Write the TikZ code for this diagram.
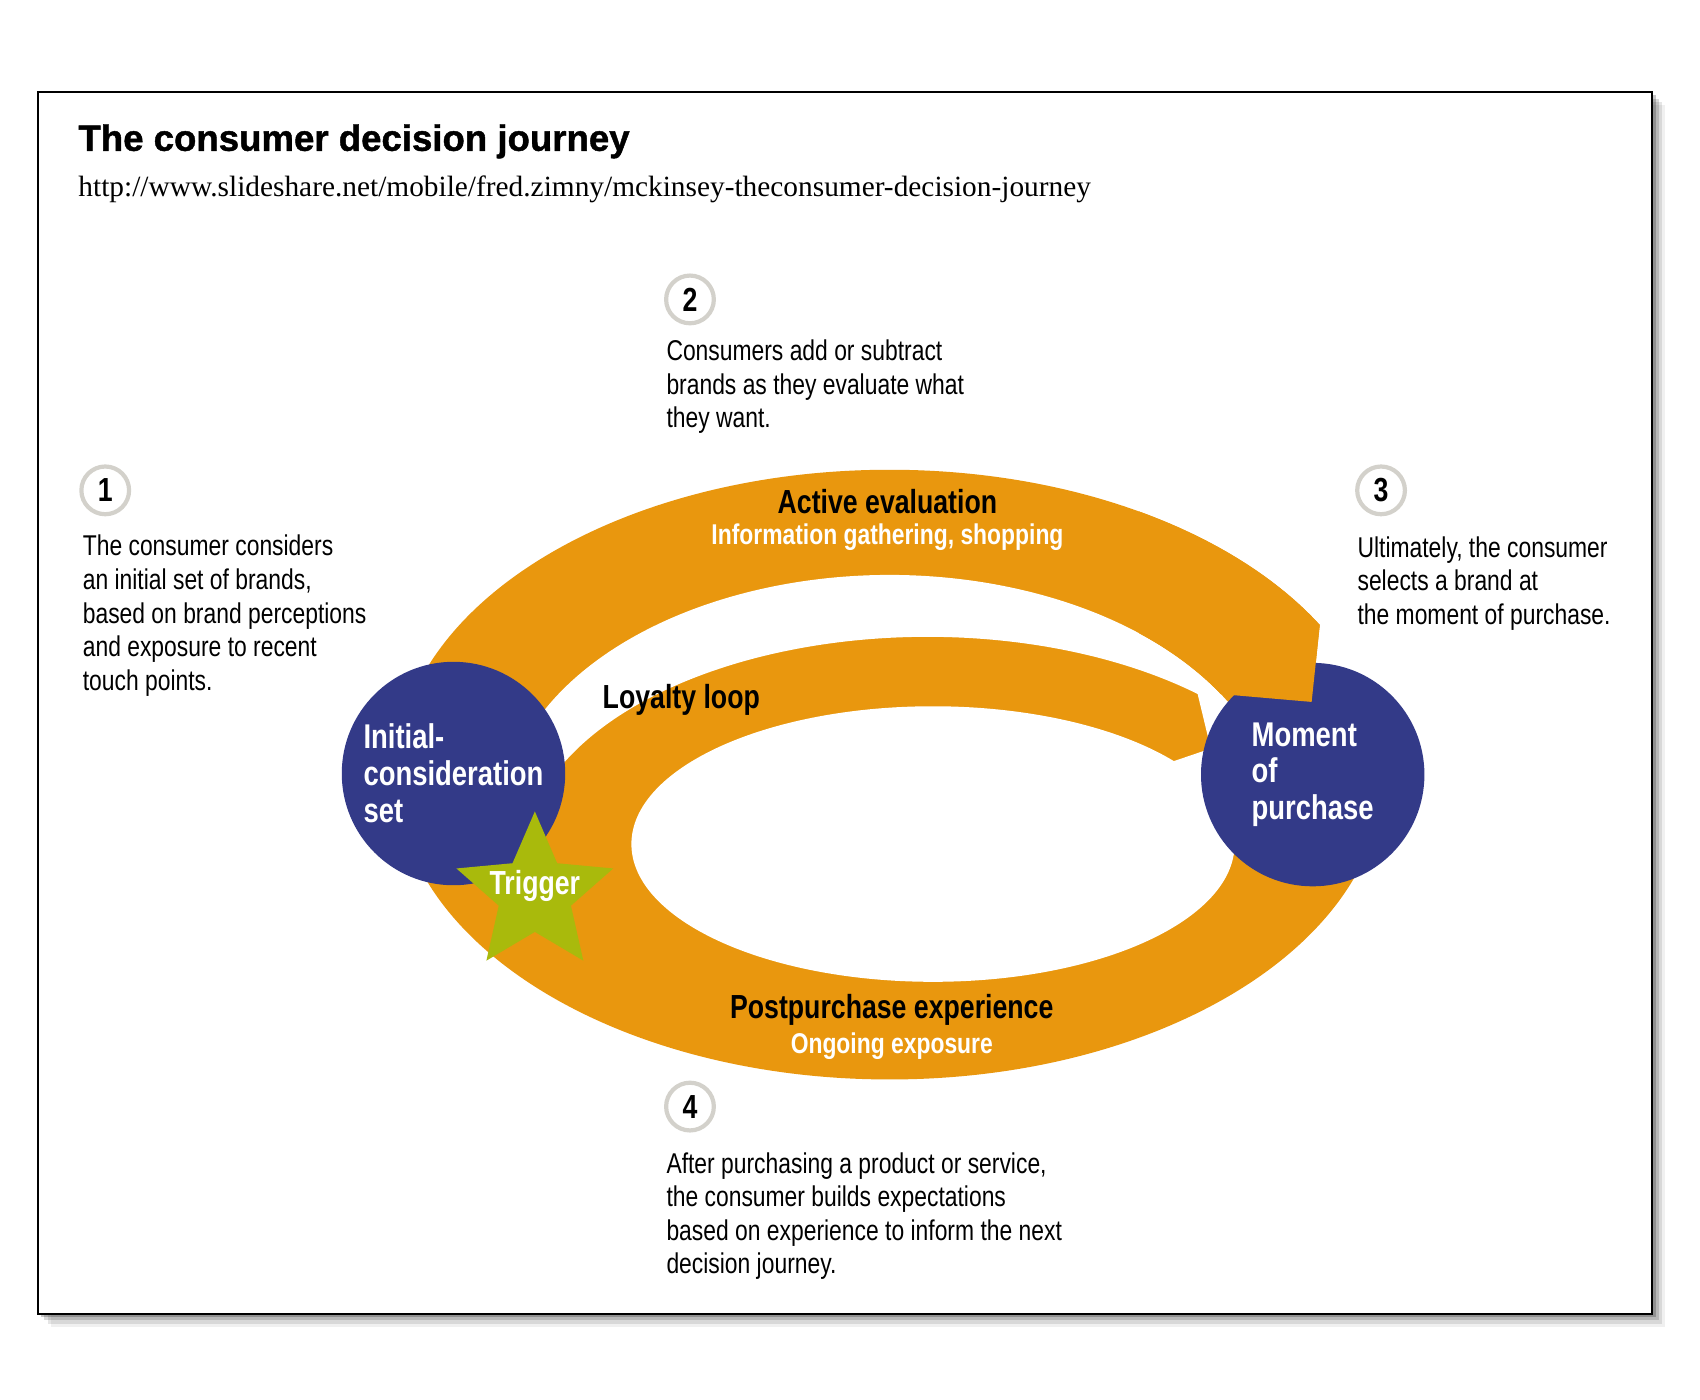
\documentclass[tikz,border=0pt]{standalone}
\usepackage{fontspec}
\setmainfont{Liberation Sans}
\newfontfamily\condfont[FakeStretch=0.8]{Liberation Sans}
\newfontfamily\headfont[FakeBold=1.2]{Liberation Sans Bold}
\newfontfamily\webfont{Liberation Serif}
\usetikzlibrary{calc}
\definecolor{cdjorange}{HTML}{E9970E}
\definecolor{cdjblue}{HTML}{333A88}
\definecolor{cdjgreen}{HTML}{A9BA0C}
\definecolor{cdjgray}{HTML}{D3D1CB}
\tikzset{
  stage/.style={circle, fill=cdjblue, minimum size=4.12cm, inner sep=0pt, text=white, align=left,
    font=\condfont\bfseries\fontsize{18}{19.3}\selectfont},
  numring/.style={circle, draw=cdjgray, line width=2.2pt, minimum size=0.88cm, inner sep=0pt,
    font=\condfont\bfseries\fontsize{17.5}{18}\selectfont},
  blurb/.style={anchor=north west, inner sep=0pt, align=left, font=\condfont\fontsize{15}{17.6}\selectfont},
  phase/.style={inner sep=0pt, font=\condfont\bfseries\fontsize{17.5}{20}\selectfont},
  subphase/.style={inner sep=0pt, text=white, font=\condfont\bfseries\fontsize{15}{18}\selectfont}
}
\begin{document}
\begin{tikzpicture}[x=0.02cm, y=-0.02cm]
\useasboundingbox (0,0) rectangle (1567,1290);
% frame and its shadow
\foreach \s/\o in {12/0.06,9/0.1,6/0.15,3/0.22}
  \fill[black, opacity=\o] (35+\s,85+\s) rectangle (1523+\s,1211+\s);
\draw[fill=white, line width=0.9pt] (35,85) rectangle (1523,1211);
\node[anchor=base west, inner sep=0pt, font=\headfont\fontsize{19.2}{22}\selectfont] (title) at (72,139) {The consumer decision journey};
\node[anchor=base west, inner sep=0pt, font=\webfont\fontsize{15.4}{17}\selectfont] (src) at (72,181) {http://www.slideshare.net/mobile/fred.zimny/mckinsey-theconsumer-decision-journey};

% outer band, cut at the top right
\begin{scope}
\clip (300,380) -- (1233,420) -- (1209,647) -- (1340,660) -- (1340,1060) -- (300,1060) -- cycle;
\fill[cdjorange] (820,714) ellipse[x radius=455, y radius=281];
\end{scope}
% white gap and hole, leaving the loyalty loop
\fill[white] ($(855,792)+(200:372 and 205)$) -- ($(820,760)+(200:358 and 230)$)
  arc[start angle=200, end angle=340, x radius=358, y radius=230]
  -- ($(860,778)+(0:278 and 127)$)
  arc[start angle=0, end angle=323, x radius=278, y radius=127]
  -- (1116,690) -- ($(855,792)+(312:372 and 205)$)
  arc[start angle=312, end angle=200, x radius=372, y radius=205] -- cycle;

\node[stage] (mop) at (1210,714) {Moment\\of\\purchase};
% end of the band lies over the circle
\begin{scope}
\clip (1050,450) -- (1233,420) -- (1209,647) -- (1128,640) -- (1050,633) -- cycle;
\fill[cdjorange, even odd rule] (820,714) ellipse[x radius=455, y radius=281]
  (820,760) ellipse[x radius=358, y radius=230];
\end{scope}
\node[stage] (ics) at (418,713) {Initial-\\consideration\\set};

\coordinate (trig) at (493,824);
\fill[cdjgreen] ($(trig)+(270:76)$) \foreach \a/\r in {306/35,342/76,18/35,54/76,90/35,126/76,162/35,198/76,234/35} { -- ($(trig)+(\a:\r)$) } -- cycle;
\node[phase, text=white] (trigger) at (493,817) {Trigger};

\node[phase] (act) at (818,462) {Active evaluation};
\node[subphase] (actsub) at (818,495) {Information gathering, shopping};
\node[phase] (loy) at (628,645) {Loyalty loop};
\node[phase] (post) at (822,931) {Postpurchase experience};
\node[subphase] (postsub) at (822,964) {Ongoing exposure};

\node[numring] (n1) at (97,452) {1};
\node[numring] (n2) at (636,276) {2};
\node[numring] (n3) at (1273,452) {3};
\node[numring] (n4) at (636,1020) {4};
\node[blurb] (b1) at (76,493) {The consumer considers\\an initial set of brands,\\based on brand perceptions\\and exposure to recent\\touch points.};
\node[blurb] (b2) at (614,313) {Consumers add or subtract\\brands as they evaluate what\\they want.};
\node[blurb] (b3) at (1251,494) {Ultimately, the consumer\\selects a brand at\\the moment of purchase.};
\node[blurb] (b4) at (614,1062) {After purchasing a product or service,\\the consumer builds expectations\\based on experience to inform the next\\decision journey.};
\end{tikzpicture}
\end{document}
